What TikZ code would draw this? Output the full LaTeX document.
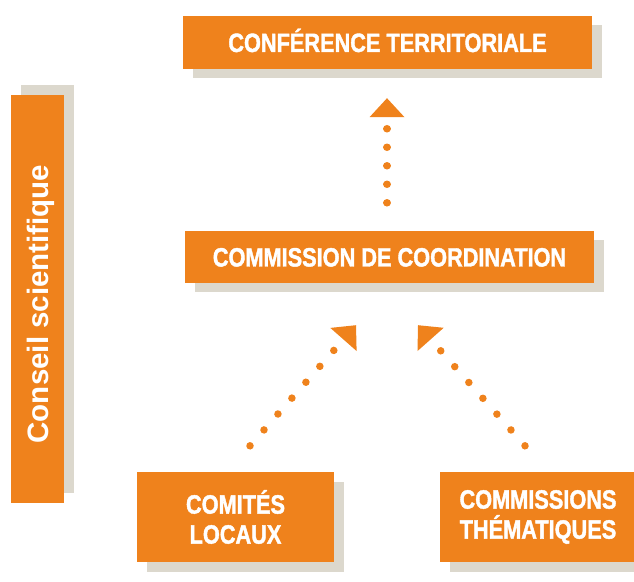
\documentclass[tikz,border=0pt]{standalone}
\usepackage{fontspec}
\setmainfont{Liberation Sans}
\newfontfamily\condfont[FakeStretch=0.82,FakeBold=1.5]{Liberation Sans}
\usetikzlibrary{arrows.meta,shadows}
\definecolor{boxorange}{RGB}{239,130,28}
\definecolor{boxshade}{RGB}{220,216,205}
\tikzset{
  panel/.style={fill=boxorange,text=white,align=center,inner sep=0pt,
    font=\condfont\bfseries\fontsize{26.5}{30}\selectfont},
  shadedown/.style={drop shadow={shadow xshift=10pt,shadow yshift=-9.5pt,fill=boxshade,opacity=1}},
  shadeup/.style={drop shadow={shadow xshift=10pt,shadow yshift=10pt,fill=boxshade,opacity=1}},
  oneline/.style={text height=19pt,text depth=0pt},
  dotarrow/.style={draw=boxorange,line width=7.5pt,line cap=round,
    dash pattern=on 0.01pt off #1,-{Triangle[width=35pt,length=19pt,line width=0pt]}}
}
\begin{document}
\begin{tikzpicture}[x=1pt,y=1pt]
\useasboundingbox (0,0) rectangle (634,581);
\clip (0,0) rectangle (634,581);

% boxes
\node[panel,shadedown,oneline,minimum width=409pt,minimum height=53pt] (conf) at (387.5,538.5) {CONFÉRENCE TERRITORIALE};
\node[panel,shadedown,oneline,minimum width=409pt,minimum height=52pt] (coord) at (389.5,324) {COMMISSION DE COORDINATION};
\node[panel,shadedown,minimum width=197pt,minimum height=90pt] (comites) at (235.5,64) {COMITÉS\\LOCAUX};
\node[panel,shadedown,minimum width=196pt,minimum height=90pt] (themes) at (538,64) {COMMISSIONS\\THÉMATIQUES};

% side bar
\node[panel,shadeup,font=\bfseries\fontsize{29.5}{30}\selectfont,minimum width=53pt,minimum height=408pt] (conseil) at (37.5,282)
  {\rotatebox{90}{\raisebox{0pt}[\height][0pt]{Conseil scientifique\hspace*{10pt}}}};

% dotted arrows
\draw[dotarrow=18.5pt] ([xshift=-2.5pt,yshift=28pt]coord.north) -- ([xshift=-0.5pt,yshift=-29pt]conf.south);
\draw[dotarrow=21.15pt] ([xshift=14.5pt,yshift=26pt]comites.north) -- ([xshift=-33.5pt,yshift=-42pt]coord.south);
\draw[dotarrow=21.15pt] ([xshift=-13pt,yshift=26pt]themes.north) -- ([xshift=28.5pt,yshift=-42pt]coord.south);
\end{tikzpicture}
\end{document}
